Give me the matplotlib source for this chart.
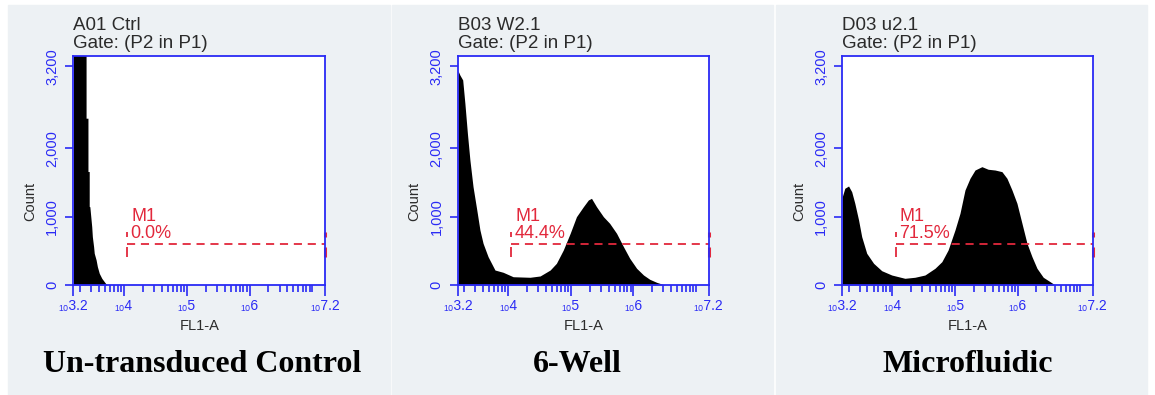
import numpy as np
import matplotlib
matplotlib.use("Agg")
import matplotlib.pyplot as plt
from matplotlib.patches import Rectangle
from matplotlib.ticker import FixedLocator, NullFormatter
from matplotlib.transforms import blended_transform_factory

# sample names, captions and M1 gate results
sample_names = ["A01 Ctrl", "B03 W2.1", "D03 u2.1"]
gate_name = "Gate: (P2 in P1)"
captions = ["Un-transduced Control", "6-Well", "Microfluidic"]
m1_pct = ["0.0%", "44.4%", "71.5%"]

# histogram outlines: log10(FL1-A) and count
ctrl_log = [3.20, 3.40, 3.40, 3.43, 3.43, 3.45, 3.45, 3.46, 3.49, 3.50, 3.52, 3.53,
            3.56, 3.58, 3.61, 3.65, 3.69, 3.73]
ctrl_count = [3600, 3600, 2440, 2440, 1660, 1660, 1150, 1145, 853, 707, 560, 464,
              366, 268, 171, 98, 48, 0]

well_log = [3.20, 3.23, 3.275, 3.31, 3.35, 3.39, 3.44, 3.50, 3.55, 3.60, 3.68, 3.79,
            3.92, 4.08, 4.35, 4.51, 4.67, 4.77, 4.88, 4.99, 5.09, 5.20, 5.28, 5.33,
            5.41, 5.52, 5.62, 5.73, 5.84, 5.94, 6.05, 6.16, 6.26, 6.37, 6.50]
well_count = [3135, 3072, 3000, 2658, 2219, 1829, 1438, 1097, 805, 610, 414, 219,
              186, 121, 113, 132, 219, 317, 512, 756, 999, 1145, 1244, 1268,
              1145, 999, 902, 756, 560, 390, 244, 146, 83, 39, 0]

micro_log = [3.20, 3.24, 3.30, 3.35, 3.40, 3.46, 3.51, 3.59, 3.70, 3.83, 3.99, 4.20,
             4.36, 4.52, 4.68, 4.79, 4.89, 5.00, 5.08, 5.16, 5.24, 5.32, 5.43, 5.53,
             5.64, 5.75, 5.83, 5.91, 5.99, 6.07, 6.15, 6.23, 6.31, 6.41, 6.52, 6.60]
micro_count = [1292, 1415, 1448, 1365, 1195, 951, 707, 464, 317, 209, 146, 98,
               113, 146, 244, 341, 512, 805, 1049, 1390, 1561, 1682, 1731, 1693,
               1682, 1658, 1561, 1390, 1195, 902, 610, 414, 244, 113, 48, 0]

hist_logs = [ctrl_log, well_log, micro_log]
hist_counts = [ctrl_count, well_count, micro_count]

# axis settings
x_lo, x_hi = 3.2, 7.2
y_top = 3350
y_ticks = [0, 1000, 2000, 3200]
y_ticklabels = ["0", "1,000", "2,000", "3,200"]
x_label_exps = [3.2, 4, 5, 6, 7.2]
x_label_txt = ["3.2", "4", "5", "6", "7.2"]
gate_start = 4.05
gate_level = 595

W, H = 1155, 395
BLUE = "#2a2af5"
RED = "#e2283c"
GREY = "#2b2b2b"
BG = "#edf1f4"
SANS = ["Liberation Sans", "DejaVu Sans"]

fig = plt.figure(figsize=(W / 100, H / 100), dpi=100)
fig.patch.set_facecolor("white")

# light panel backgrounds
for x0, x1 in [(8, 389.5), (392, 773), (776, 1147)]:
    fig.add_artist(Rectangle((x0 / W, 0), (x1 - x0) / W, (H - 5) / H,
                             transform=fig.transFigure, color=BG, zorder=0))

axes_px = [(73.5, 325), (458, 708.7), (842.3, 1092.7)]
top_px, bot_px = 56, 285
caption_x = [202, 577, 968]

minor_ticks = [k * 10.0 ** n for n in range(3, 8) for k in range(1, 10)
               if x_lo < np.log10(k * 10.0 ** n) < x_hi and k * 10.0 ** n not in (1e4, 1e5, 1e6)]

for i in range(3):
    l, r = axes_px[i]
    ax = fig.add_axes([l / W, 1 - bot_px / H, (r - l) / W, (bot_px - top_px) / H])
    ax.set_facecolor("white")
    ax.set_xscale("log")
    ax.set_xlim(10 ** x_lo, 10 ** x_hi)
    ax.set_ylim(0, y_top)

    ax.fill_between(10 ** np.array(hist_logs[i]), hist_counts[i], color="black", lw=0)

    for s in ax.spines.values():
        s.set_color(BLUE)
        s.set_linewidth(1.3)

    ax.xaxis.set_major_locator(FixedLocator([10 ** v for v in x_label_exps]))
    ax.xaxis.set_minor_locator(FixedLocator(minor_ticks))
    ax.xaxis.set_major_formatter(NullFormatter())
    ax.xaxis.set_minor_formatter(NullFormatter())
    ax.tick_params(axis="x", which="major", length=8, width=1.2, color=BLUE, direction="out")
    ax.tick_params(axis="x", which="minor", length=5, width=1.2, color=BLUE, direction="out")

    ax.set_yticks(y_ticks)
    ax.set_yticklabels(y_ticklabels, rotation=90, va="center", color=BLUE,
                       fontsize=10.5, family=SANS)
    ax.tick_params(axis="y", length=5.8, width=1.2, color=BLUE, pad=4.5)

    trans = blended_transform_factory(ax.transData, ax.transAxes)
    for v, t in zip(x_label_exps, x_label_txt):
        ax.text(10 ** v, -0.092, "\u2081\u2080" + t, transform=trans, ha="center",
                va="center", fontsize=10, color=BLUE, family=SANS)

    ax.text(0.5, -0.179, "FL1-A", transform=ax.transAxes, ha="center", va="center",
            fontsize=10.5, color=GREY, family=SANS)
    ax.text(-0.173, 0.367, "Count", transform=ax.transAxes, ha="center", va="center",
            rotation=90, fontsize=10.5, color=GREY, family=SANS)

    # M1 marker
    ax.plot([10 ** gate_start, 10 ** x_hi], [gate_level, gate_level], color=RED,
            lw=1.3, dashes=(4.5, 3.2), clip_on=False)
    for xv, lw in [(gate_start, 1.3), (x_hi, 2.2)]:
        ax.plot([10 ** xv] * 2, [gate_level + 110, gate_level + 185], color=RED, lw=lw,
                clip_on=False, solid_capstyle="butt")
        ax.plot([10 ** xv] * 2, [gate_level - 180, gate_level - 35], color=RED, lw=lw,
                clip_on=False, solid_capstyle="butt")
    ax.annotate("M1", xy=(10 ** gate_start, gate_level), xytext=(3, 20),
                textcoords="offset points", ha="left", va="center", fontsize=13,
                color=RED, family=SANS)
    ax.annotate(m1_pct[i], xy=(10 ** gate_start, gate_level), xytext=(2.5, 8),
                textcoords="offset points", ha="left", va="center", fontsize=13,
                color=RED, family=SANS)

    fig.text(l / W, 1 - 30 / H, sample_names[i], ha="left", va="baseline",
             fontsize=13.5, color=GREY, family=SANS)
    fig.text(l / W, 1 - 48 / H, gate_name, ha="left", va="baseline",
             fontsize=13.5, color=GREY, family=SANS)

    fig.text(caption_x[i] / W, 1 - 372 / H, captions[i], ha="center", va="baseline",
             fontsize=23, fontweight="bold", color="black",
             family=["Liberation Serif", "DejaVu Serif"])

fig.savefig("out.png", dpi=100)
